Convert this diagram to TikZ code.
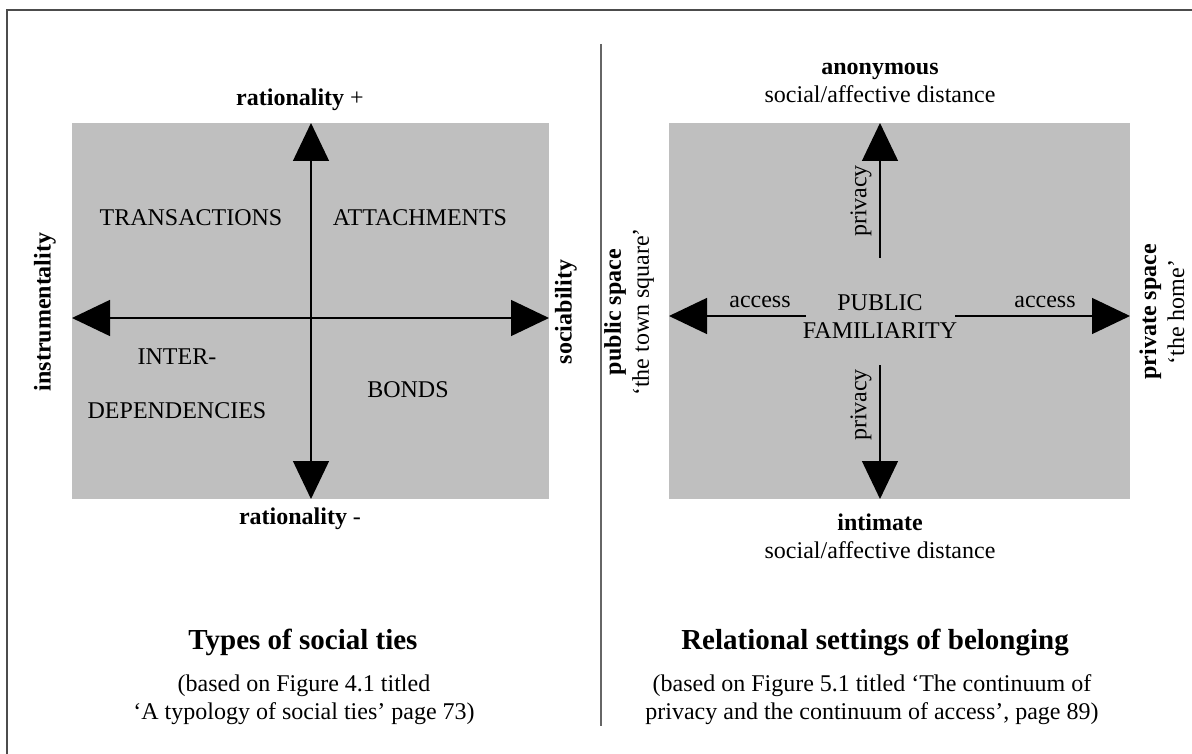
\documentclass[tikz,border=0pt]{standalone}
\usepackage{fontspec}
\setmainfont{Liberation Serif}
\usetikzlibrary{arrows.meta}

\tikzset{
  bigarrow/.style={line width=1.4pt,-{Triangle[length=38pt,width=36pt]}},
  plain/.style={font=\fontsize{24}{28}\selectfont, align=center, inner sep=0pt},
  heavy/.style={font=\fontsize{24}{28}\selectfont\bfseries, align=center, inner sep=0pt},
  title/.style={font=\fontsize{29}{33}\selectfont\bfseries, inner sep=0pt},
  panel/.style={fill=black!25, draw=none}
}

\begin{document}
\begin{tikzpicture}[x=1pt,y=-1pt]
\useasboundingbox (0,0) rectangle (1192,754);

% frame and divider
\draw[line width=2pt, black!70] (7,754) -- (7,10) -- (1192,10);
\draw[line width=2pt, black!60] (601,44) -- (601,726);

% left panel: types of social ties
\fill[panel] (72,123) rectangle (549,499);
\coordinate (lt) at (311,123);
\coordinate (lb) at (311,499);
\coordinate (ll) at (72,318);
\coordinate (lr) at (549,318);
\coordinate (lc) at (311,318);
\draw[bigarrow] (lc) -- (lt);
\draw[bigarrow] (lc) -- (lb);
\draw[bigarrow] (lc) -- (ll);
\draw[bigarrow] (lc) -- (lr);

\node[heavy] (ratup) at (300,100) {rationality \textmd{+}};
\node[heavy] (ratdown) at (300,519) {rationality \textmd{-}};
\node[heavy, rotate=90] (instr) at (45,312) {instrumentality};
\node[heavy, rotate=90] (sociab) at (566,312) {sociability};

\node[plain] (trans) at (191,218) {TRANSACTIONS};
\node[plain] (attach) at (420,218) {ATTACHMENTS};
\node[plain] (interdep) at (177,384) {INTER-\\[26pt]DEPENDENCIES};
\node[plain] (bonds) at (408,390) {BONDS};

\node[title] (tleft) at (303,642) {Types of social ties};
\node[plain] (sleft) at (304,700) {(based on Figure 4.1 titled\\`A typology of social ties' page 73)};

% right panel: relational settings of belonging
\fill[panel] (669,123) rectangle (1130,499);
\node[plain] (famil) at (880,317) {PUBLIC\\FAMILIARITY};
\coordinate (rt) at (880,123);
\coordinate (rb) at (880,499);
\coordinate (rl) at (669,316);
\coordinate (rr) at (1130,316);
\coordinate (rtin) at (880,258);
\coordinate (rbin) at (880,365);
\coordinate (rlin) at (806,316);
\coordinate (rrin) at (955,316);
\draw[bigarrow] (rtin) -- (rt);
\draw[bigarrow] (rbin) -- (rb);
\draw[bigarrow] (rlin) -- (rl);
\draw[bigarrow] (rrin) -- (rr);

\node[plain, rotate=90] (privup) at (861,201) {privacy};
\node[plain, rotate=90] (privdown) at (861,405) {privacy};
\node[plain] (accleft) at (760,302) {access};
\node[plain] (accright) at (1045,302) {access};

\node[plain] (anon) at (880,83) {\textbf{anonymous}\\social/affective distance};
\node[plain] (intim) at (880,536) {\textbf{intimate}\\social/affective distance};
\node[plain, rotate=90] (pubsp) at (629,312) {\textbf{public space}\\`the town square'};
\node[plain, rotate=90] (privsp) at (1162,312) {\textbf{private space}\\`the home'};

\node[title] (tright) at (875,642) {Relational settings of belonging};
\node[plain] (sright) at (872,700) {(based on Figure 5.1 titled `The continuum of\\privacy and the continuum of access', page 89)};
\end{tikzpicture}
\end{document}
